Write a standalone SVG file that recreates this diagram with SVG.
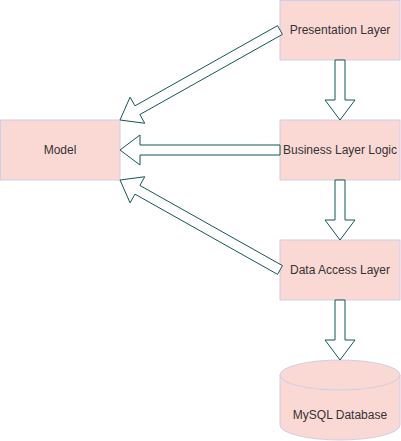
<svg xmlns="http://www.w3.org/2000/svg" width="401" height="441" viewBox="0 0 401 441">
<style>
.box{fill:#fad9d5;stroke:#d0cee2;stroke-width:1}
.lbl{font-family:"Liberation Sans",Arial,Helvetica,sans-serif;font-size:12px;fill:#333333;text-anchor:middle}
.arr{fill:#ffffff;stroke:#155555;stroke-width:1;stroke-linejoin:miter}
</style>
<rect width="401" height="441" fill="#ffffff"/>
<g id="presentation">
<rect class="box" x="280" y="0.5" width="120" height="59.5"/>
<text class="lbl" x="340" y="34">Presentation Layer</text>
</g>
<g id="business">
<rect class="box" x="280" y="120" width="120" height="60"/>
<text class="lbl" x="340" y="154">Business Layer Logic</text>
</g>
<g id="model">
<rect class="box" x="0.5" y="120" width="119.5" height="60"/>
<text class="lbl" x="60" y="154">Model</text>
</g>
<g id="dataaccess">
<rect class="box" x="280" y="240" width="120" height="60"/>
<text class="lbl" x="340" y="274">Data Access Layer</text>
</g>
<g id="database">
<path class="box" d="M280,375 A60,15 0 0 1 340,360 A60,15 0 0 1 400,375 L400,425 A60,15 0 0 1 340,440 A60,15 0 0 1 280,425 Z"/>
<path d="M280,375 A60,15 0 0 0 340,390 A60,15 0 0 0 400,375" fill="none" stroke="#d0cee2" stroke-width="1"/>
<text class="lbl" x="340" y="419">MySQL Database</text>
</g>
<g id="connectors">
<polygon class="arr" points="335,60 345,60 345,100 355,100 340,120 325,100 335,100"/>
<polygon class="arr" points="335,180 345,180 345,220 355,220 340,240 325,220 335,220"/>
<polygon class="arr" points="335,300 345,300 345,340 355,340 340,360 325,340 335,340"/>
<polygon class="arr" points="280,145 280,155 140,155 140,165 120,150 140,135 140,145"/>
<polygon class="arr" points="282.45,34.36 139.88,114.55 144.78,123.27 120,120 130.08,97.13 134.98,105.84 277.55,25.64"/>
<polygon class="arr" points="282.45,265.64 139.88,185.44 144.78,176.73 120,180 130.08,202.87 134.98,194.16 277.55,274.36"/>
</g>
</svg>
